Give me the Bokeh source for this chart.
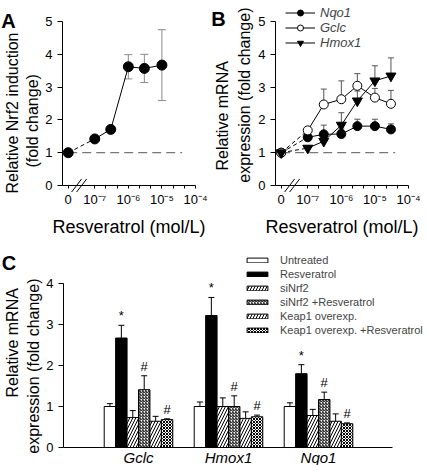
import numpy as np
from bokeh.plotting import figure
from bokeh.models import (ColumnDataSource, Whisker, TeeHead, Legend, LegendItem, Title,
                          FixedTicker, Range1d, CustomJSTickFormatter)
from bokeh.layouts import column, row
from bokeh.embed import file_html
from bokeh.resources import INLINE
from bokeh.core.properties import value

FONT = "Liberation Sans"

# ---------------- data ----------------
# Panel A: Nrf2 induction vs resveratrol concentration (mol/L)
conc_a = [0, 1e-7, 3e-7, 1e-6, 3e-6, 1e-5]
nrf2_fold = [1.00, 1.42, 1.71, 3.62, 3.57, 3.67]
nrf2_err = [0.06, 0.05, 0.05, 0.37, 0.43, 1.08]

# Panel B: mRNA expression vs resveratrol concentration (mol/L)
conc_b = [0, 1e-7, 3e-7, 1e-6, 3e-6, 1e-5, 3e-5]
nqo1_fold = [1.00, 1.47, 1.56, 1.57, 1.81, 1.81, 1.71]
nqo1_err = [0.04, 0.10, 0.28, 0.15, 0.21, 0.21, 0.17]
gclc_fold = [1.00, 1.68, 2.47, 2.63, 3.04, 2.68, 2.49]
gclc_err = [0.04, 0.08, 0.47, 0.56, 0.37, 0.28, 0.41]
hmox1_fold = [1.00, 1.14, 1.35, 1.84, 2.58, 3.19, 3.34]
hmox1_err = [0.04, 0.08, 0.10, 0.38, 0.30, 0.46, 0.55]

conc_tick_values = [0, 1e-7, 1e-6, 1e-5, 1e-4]
conc_tick_labels = ["0", "10⁻⁷", "10⁻⁶", "10⁻⁵", "10⁻⁴"]
ref_line_conc = [0, 4e-5]
ref_line_fold = [1.0, 1.0]
fold_ticks_ab = [0, 1, 2, 3, 4, 5]

# Panel C: grouped bars
genes = ["Gclc", "Hmox1", "Nqo1"]
treatments = ["Untreated", "Resveratrol", "siNrf2", "siNrf2 +Resveratrol",
              "Keap1 overexp.", "Keap1 overexp. +Resveratrol"]
untreated = [1.00, 1.00, 1.00]
untreated_err = [0.07, 0.11, 0.09]
resveratrol = [2.67, 3.22, 1.80]
resveratrol_err = [0.31, 0.44, 0.22]
sinrf2 = [0.73, 1.00, 0.78]
sinrf2_err = [0.17, 0.21, 0.15]
sinrf2_res = [1.41, 1.00, 1.17]
sinrf2_res_err = [0.34, 0.26, 0.18]
keap1 = [0.64, 0.71, 0.64]
keap1_err = [0.12, 0.16, 0.18]
keap1_res = [0.68, 0.75, 0.58]
keap1_res_err = [0.02, 0.04, 0.02]
significance = ["", "*", "", "#", "", "#"]
fold_ticks_c = [0, 1, 2, 3, 4]

# ---------------- helpers ----------------
ZERO_POS = 0.21  # position of the "0" dose on the broken log axis


def conc_pos(c):
    return ZERO_POS if c == 0 else round(float(np.log10(c)) + 8.0, 6)


def tick_formatter(positions, labels):
    return CustomJSTickFormatter(args=dict(pos=list(positions), labs=list(labels)), code="""
        for (let i = 0; i < pos.length; i++) {
            if (Math.abs(tick - pos[i]) < 1e-6) { return labs[i]; }
        }
        return "";
    """)


def style_axes(p):
    p.grid.visible = False
    p.outline_line_color = None
    p.background_fill_color = "white"
    p.border_fill_color = "white"
    for ax in p.axis:
        ax.axis_line_color = "black"
        ax.major_tick_line_color = "black"
        ax.minor_tick_line_color = "black"
        ax.major_tick_in = 0
        ax.minor_tick_in = 0
        ax.minor_tick_out = 0
        ax.major_label_text_font = FONT
        ax.major_label_text_font_size = "13px"
        ax.major_label_text_color = "black"
        ax.major_label_text_line_height = 1.0
        ax.axis_label_text_font = FONT
        ax.axis_label_text_font_style = "normal"
        ax.axis_label_text_color = "black"
        ax.axis_label_text_line_height = 1.0


def add_ytitle(p, text, align, offset, standoff):
    p.add_layout(Title(text=text, align=align, offset=offset, standoff=standoff,
                       text_font=FONT, text_font_size="16px", text_font_style="normal",
                       text_color="black"), "left")


def add_letter(p, text, x, y):
    p.text(x=[x], y=[y], text=[text], text_font=value(FONT), text_font_style="bold",
           text_font_size="20px", text_align="left", text_baseline="alphabetic",
           text_color="black", level="overlay")


def dose_figure(width, border_left, border_right):
    p = figure(width=width, height=240, x_range=Range1d(0.04, 4.0),
               y_range=Range1d(0, 5 + 17 / 32.8), title=None,
               output_backend="svg", toolbar_location=None,
               min_border_left=border_left, min_border_right=border_right,
               min_border_top=4, min_border_bottom=55)
    style_axes(p)
    xt = [conc_pos(c) for c in conc_tick_values]
    minor = [round(d + k / 3.0, 4) for d in (1, 2, 3) for k in (1, 2)]
    p.xaxis.ticker = FixedTicker(ticks=xt, minor_ticks=minor)
    p.xaxis.formatter = tick_formatter(xt, conc_tick_labels)
    p.xaxis.major_tick_out = 3
    p.xaxis.minor_tick_out = 3
    p.xaxis.major_label_standoff = 3
    p.xaxis.axis_label = "Resveratrol (mol/L)"
    p.xaxis.axis_label_text_font_size = "18px"
    p.xaxis.axis_label_standoff = 7
    p.yaxis.ticker = FixedTicker(ticks=fold_ticks_ab)
    p.yaxis.bounds = (0, 5)
    p.yaxis.major_tick_out = 5
    p.yaxis.major_label_standoff = 5
    # axis break marks "//"
    for bx in (0.46, 0.61):
        p.segment(x0=[bx - 0.15], y0=[-0.2], x1=[bx + 0.15], y1=[0.2],
                  line_color="black", line_width=1, level="overlay")
    # reference line at fold change 1
    p.line([conc_pos(c) for c in ref_line_conc], ref_line_fold, line_dash="9 5",
           line_color="#777777", line_width=1.2)
    return p


# ---------------- Panel A ----------------
pA = dose_figure(208, 62, 13)
xa = [conc_pos(c) for c in conc_a]
src_a = ColumnDataSource(dict(x=xa, y=nrf2_fold,
                              lower=[v - e for v, e in zip(nrf2_fold, nrf2_err)],
                              upper=[v + e for v, e in zip(nrf2_fold, nrf2_err)]))
pA.add_layout(Whisker(source=src_a, base="x", lower="lower", upper="upper",
                      line_color="#8a8a8a", line_width=1,
                      upper_head=TeeHead(size=8, line_color="#8a8a8a"),
                      lower_head=TeeHead(size=8, line_color="#8a8a8a")))
pA.line(xa[:2], nrf2_fold[:2], line_dash="4 3", line_color="black")
pA.line(xa[1:], nrf2_fold[1:], line_color="black")
pA.scatter("x", "y", source=src_a, size=10, marker="circle", fill_color="black", line_color="black")
add_ytitle(pA, "(fold change)", "left", 18, 3)
add_ytitle(pA, "Relative Nrf2 induction", "right", 28, 0)
add_letter(pA, "A", -1.78, 5.03)

# ---------------- Panel B ----------------
pB = dose_figure(219, 67, 19)
xb = [conc_pos(c) for c in conc_b]
series_b = [
    ("Nqo1", nqo1_fold, nqo1_err, "circle", "black", 9),
    ("Gclc", gclc_fold, gclc_err, "circle", "white", 9),
    ("Hmox1", hmox1_fold, hmox1_err, "inverted_triangle", "black", 10),
]
legend_items = []
for name, vals, errs, marker, fill, size in series_b:
    src = ColumnDataSource(dict(x=xb, y=vals, upper=[v + e for v, e in zip(vals, errs)]))
    pB.add_layout(Whisker(source=src, base="x", lower="y", upper="upper",
                          line_color="#555555", line_width=1,
                          upper_head=TeeHead(size=6, line_color="#555555"), lower_head=None))
    pB.line(xb[:2], vals[:2], line_dash="4 3", line_color="black")
    lr = pB.line(xb[1:], vals[1:], line_color="black")
    sr = pB.scatter("x", "y", source=src, size=size, marker=marker,
                    fill_color=fill, line_color="black")
    legend_items.append(LegendItem(label=name, renderers=[lr, sr]))
legB = Legend(items=legend_items, location=(10, 135), orientation="vertical",
              glyph_width=30, glyph_height=15, label_height=15, spacing=0,
              padding=0, margin=0, label_standoff=5,
              label_text_font=FONT, label_text_font_style="italic", label_text_font_size="13px",
              border_line_color=None, background_fill_alpha=0)
pB.add_layout(legB)
add_ytitle(pB, "expression (fold change)", "right", 3, 6)
add_ytitle(pB, "Relative mRNA", "left", 15, 0)
add_letter(pB, "B", -1.87, 5.09)

# ---------------- Panel C ----------------
pC = figure(width=427, height=225, x_range=Range1d(0.1667, 4.211),
            y_range=Range1d(0, 4 + 33 / 41), title=None,
            output_backend="svg", toolbar_location=None,
            min_border_left=63, min_border_right=0, min_border_top=10, min_border_bottom=18)
style_axes(pC)
group_x = [1, 2, 3]
pC.xaxis.ticker = FixedTicker(ticks=[])
pC.xaxis.bounds = (0.1667, 3.822)
pC.xaxis.major_tick_out = 0
pC.xaxis.major_label_standoff = 0
pC.yaxis.ticker = FixedTicker(ticks=fold_ticks_c)
pC.yaxis.bounds = (0, 4)
pC.yaxis.major_tick_out = 5
pC.yaxis.major_label_standoff = 5

BAR_W = 0.127
bar_styles = [
    dict(fill_color="white"),
    dict(fill_color="black"),
    dict(fill_color="white", hatch_pattern="/", hatch_scale=6),
    dict(fill_color="white", hatch_pattern="/", hatch_scale=3),
    dict(fill_color="white", hatch_pattern="/", hatch_scale=6),
    dict(fill_color="white", hatch_pattern="x", hatch_scale=3),
]
c_series = [untreated, resveratrol, sinrf2, sinrf2_res, keap1, keap1_res]
c_errors = [untreated_err, resveratrol_err, sinrf2_err, sinrf2_res_err, keap1_err, keap1_res_err]
c_items = []
for i, (name, vals, errs, mark, sty) in enumerate(zip(treatments, c_series, c_errors,
                                                       significance, bar_styles)):
    xs = [g + (i - 2.5) * BAR_W for g in group_x]
    src = ColumnDataSource(dict(x=xs, top=vals, upper=[v + e for v, e in zip(vals, errs)],
                                mark=[mark] * len(vals)))
    pC.add_layout(Whisker(source=src, base="x", lower="top", upper="upper",
                          line_color="black", line_width=1,
                          upper_head=TeeHead(size=6, line_color="black"), lower_head=None))
    r = pC.vbar(x="x", top="top", width=BAR_W, source=src, line_color="black", line_width=1,
                hatch_color="black", hatch_weight=1, **sty)
    if mark:
        pC.text(x="x", y="upper", text="mark", source=src, text_align="center",
                text_baseline="bottom", y_offset=-2, text_font=value(FONT),
                text_font_size="13px", text_color="black")
    c_items.append(LegendItem(label=name, renderers=[r]))

# gene names under each group (category labels of the x axis)
pC.text(x=group_x, y=[0] * len(group_x), text=genes, text_align="center",
        text_baseline="top", y_offset=1, text_font=value(FONT), text_font_style="italic",
        text_font_size="15px", text_color="black", level="overlay")

legC = Legend(items=c_items, location=(181, 110), orientation="vertical",
              glyph_width=26, glyph_height=6, label_height=14, spacing=0,
              padding=0, margin=0, label_standoff=10,
              label_text_font=FONT, label_text_font_size="11px",
              border_line_color=None, background_fill_alpha=0)
pC.add_layout(legC)
add_ytitle(pC, "expression (fold change)", "right", 28, 4)
add_ytitle(pC, "Relative mRNA", "left", 50, 0)
add_letter(pC, "C", -0.52, 4.49)

layout = column(row(pA, pB), pC)
open("out.html", "w").write(file_html(layout, INLINE))
